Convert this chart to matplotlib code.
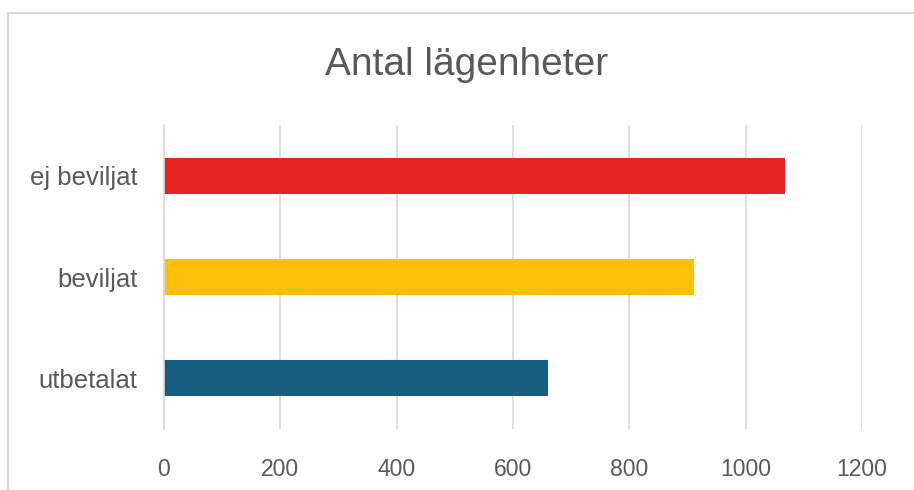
import matplotlib.pyplot as plt
from matplotlib.patches import Rectangle
from matplotlib import font_manager

categories = ["utbetalat", "beviljat", "ej beviljat"]
values = [660, 911, 1067]
colors = ["#175F81", "#FCBF0A", "#E52421"]
xticks = [0, 200, 400, 600, 800, 1000, 1200]

names = {f.name for f in font_manager.fontManager.ttflist}
fam = ["Liberation Sans Narrow", "DejaVu Sans"] if "Liberation Sans Narrow" in names else ["Liberation Sans", "DejaVu Sans"]
plt.rcParams['font.family'] = fam

TXT = "#595959"
GRID = "#D9D9D9"

fig = plt.figure(figsize=(9.14, 4.9), dpi=100)
ax = fig.add_axes([164 / 914, 1 - 429 / 490, (862 - 164) / 914, (429 - 125) / 490])

ax.barh(categories, values, height=0.355, color=colors)
ax.set_xlim(0, 1200)
ax.set_ylim(-0.5, 2.5)
ax.set_xticks(xticks)
ax.set_xticklabels([str(t) for t in xticks])
ax.grid(axis="x", color=GRID, linewidth=1.2)
ax.set_axisbelow(True)
for s in ["top", "right", "bottom"]:
    ax.spines[s].set_visible(False)
ax.spines["left"].set_color(GRID)
ax.spines["left"].set_linewidth(1.2)
ax.tick_params(axis="both", length=0, colors=TXT)
ax.tick_params(axis="x", pad=21, labelsize=16.5)
ax.tick_params(axis="y", pad=19, labelsize=18.5)

fig.text(467 / 914, 1 - 65 / 490, "Antal lägenheter", ha="center", va="center",
         fontsize=28, color=TXT)

# chart border
fig.patches.append(Rectangle((8 / 914, -0.1), 1.2, 1 - 13 / 490 + 0.1,
                             transform=fig.transFigure, fill=False,
                             edgecolor=GRID, linewidth=1.5))

fig.savefig("out.png", dpi=100)
